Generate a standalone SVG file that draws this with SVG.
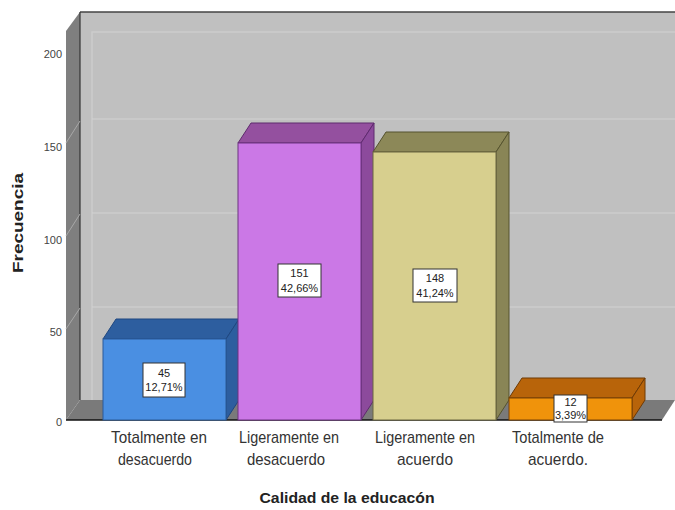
<svg xmlns="http://www.w3.org/2000/svg" width="675" height="510" viewBox="0 0 675 510">
<style>
.tick{font-family:"Liberation Sans",Arial,sans-serif;font-size:11px;fill:#444;text-anchor:end}
.cat{font-family:"Liberation Sans",Arial,sans-serif;font-size:17px;fill:#333;text-anchor:middle}
.axt{font-family:"Liberation Sans",Arial,sans-serif;font-size:15px;font-weight:bold;fill:#222;text-anchor:middle}
.lbl{font-family:"Liberation Sans",Arial,sans-serif;font-size:11px;fill:#222;text-anchor:middle}
.box{fill:#fff;stroke:#333;stroke-width:1}
.grid{stroke:#d2d2d2;stroke-width:1;fill:none}
.sgrid{stroke:#a8a8a8;stroke-width:1;fill:none}
</style>
<rect width="675" height="510" fill="#fff"/>
<g id="walls">
<rect x="80" y="12" width="595" height="388" fill="#c0c0c0"/>
<polyline points="92,400 92,32 675,32" fill="none" stroke="#cbcbcb" stroke-width="1.5"/>
<polygon points="66,31 80,12 80,400 66,420" fill="#7f7f7f"/>
<polygon points="66,420 80,400 675,400 662,420" fill="#7a7a7a"/>
<line x1="80" y1="12" x2="675" y2="12" stroke="#444" stroke-width="1.5"/>
<line x1="80" y1="12" x2="80" y2="400" stroke="#333" stroke-width="1.2"/>
<line x1="66" y1="420" x2="662" y2="420" stroke="#111" stroke-width="1.5"/>
<line x1="92" y1="307" x2="675" y2="307" class="grid"/>
<line x1="92" y1="213" x2="675" y2="213" class="grid"/>
<line x1="92" y1="119" x2="675" y2="119" class="grid"/>
<line x1="66" y1="329" x2="80" y2="308" class="sgrid"/>
<line x1="66" y1="236" x2="80" y2="214" class="sgrid"/>
<line x1="66" y1="143" x2="80" y2="121" class="sgrid"/>
</g>
<g id="y-axis">
<text class="tick" x="62" y="58">200</text>
<text class="tick" x="62" y="151">150</text>
<text class="tick" x="62" y="244">100</text>
<text class="tick" x="62" y="336">50</text>
<text class="tick" x="62" y="426">0</text>
<text class="axt" transform="translate(23,223) rotate(-90)" textLength="100" lengthAdjust="spacingAndGlyphs">Frecuencia</text>
</g>
<g id="bar1">
<polygon points="103,339 116,319 239,319 226,339" fill="#2d5e9f" stroke="#1f4780" stroke-width="1"/>
<polygon points="226,339 239,319 239,400 226,420" fill="#2d5e9f" stroke="#1f4780" stroke-width="1"/>
<rect x="103" y="339" width="123" height="81" fill="#4a8fe2" stroke="#2a5a99" stroke-width="1"/>
<rect class="box" x="143" y="363" width="42" height="34"/>
<text class="lbl" x="164" y="377">45</text>
<text class="lbl" x="164" y="391">12,71%</text>
</g>
<g id="bar2">
<polygon points="238,143 251,123 374,123 361,143" fill="#94509f" stroke="#5f2a6e" stroke-width="1"/>
<polygon points="361,143 374,123 374,400 361,420" fill="#8c4a9c" stroke="#5f2a6e" stroke-width="1"/>
<rect x="238" y="143" width="123" height="277" fill="#cb78e6" stroke="#6d3380" stroke-width="1"/>
<rect class="box" x="278" y="264" width="43" height="33"/>
<text class="lbl" x="299.5" y="277">151</text>
<text class="lbl" x="299.5" y="292">42,66%</text>
</g>
<g id="bar3">
<polygon points="373,152 386,132 509,132 496,152" fill="#8c8858" stroke="#55532e" stroke-width="1"/>
<polygon points="496,152 509,132 509,400 496,420" fill="#898556" stroke="#55532e" stroke-width="1"/>
<rect x="373" y="152" width="123" height="268" fill="#d7cf8e" stroke="#6a6740" stroke-width="1"/>
<rect class="box" x="413" y="269" width="44" height="33"/>
<text class="lbl" x="435" y="282">148</text>
<text class="lbl" x="435" y="297">41,24%</text>
</g>
<g id="bar4">
<polygon points="509,398 522,378 645,378 632,398" fill="#b8640a" stroke="#6e3a05" stroke-width="1"/>
<polygon points="632,398 645,378 645,400 632,420" fill="#b8640a" stroke="#6e3a05" stroke-width="1"/>
<rect x="509" y="398" width="123" height="22" fill="#f0930b" stroke="#7a4206" stroke-width="1"/>
<rect class="box" x="554" y="395" width="33" height="27"/>
<text class="lbl" x="570.5" y="406">12</text>
<text class="lbl" x="570.5" y="419">3,39%</text>
</g>
<g id="categories">
<text class="cat" x="159" y="443" textLength="96" lengthAdjust="spacingAndGlyphs">Totalmente en</text>
<text class="cat" x="155" y="465" textLength="74" lengthAdjust="spacingAndGlyphs">desacuerdo</text>
<text class="cat" x="289" y="443" textLength="100" lengthAdjust="spacingAndGlyphs">Ligeramente en</text>
<text class="cat" x="286" y="465" textLength="78" lengthAdjust="spacingAndGlyphs">desacuerdo</text>
<text class="cat" x="425" y="443" textLength="100" lengthAdjust="spacingAndGlyphs">Ligeramente en</text>
<text class="cat" x="425" y="465" textLength="56" lengthAdjust="spacingAndGlyphs">acuerdo</text>
<text class="cat" x="558" y="443" textLength="92" lengthAdjust="spacingAndGlyphs">Totalmente de</text>
<text class="cat" x="558" y="465" textLength="60" lengthAdjust="spacingAndGlyphs">acuerdo.</text>
<text class="axt" x="347" y="503" textLength="175" lengthAdjust="spacingAndGlyphs">Calidad de la educacón</text>
</g>
</svg>
